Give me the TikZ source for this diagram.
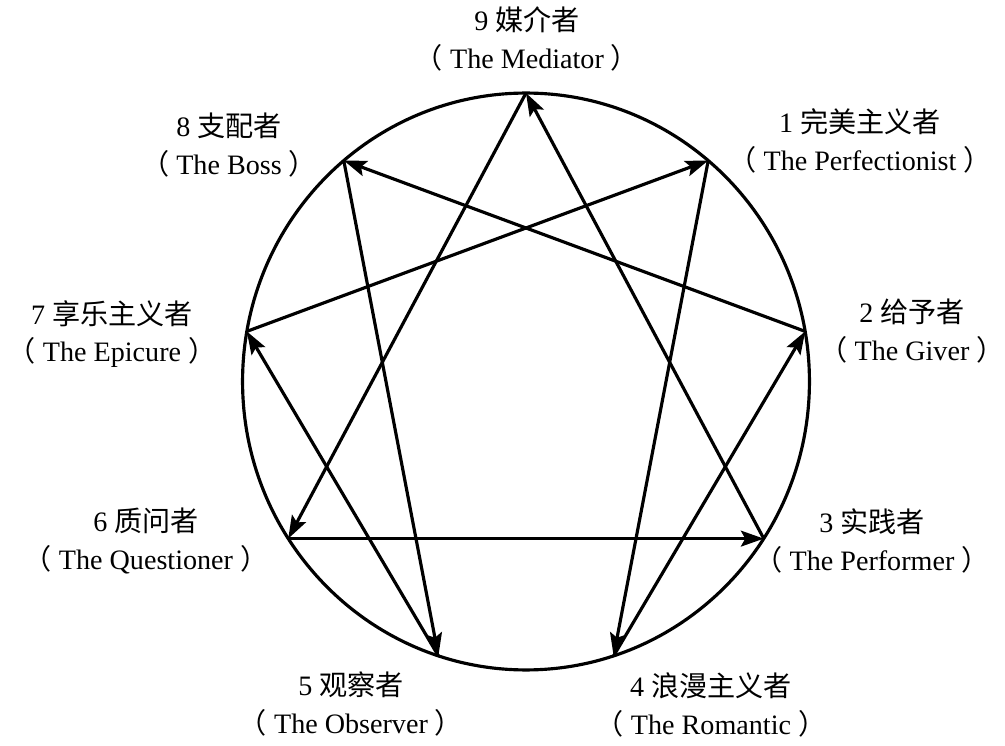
\documentclass[tikz,border=0pt]{standalone}
\usepackage{fontspec}
\setmainfont{Liberation Serif}
\newfontfamily\cjk{Noto Sans CJK SC}
\usetikzlibrary{arrows.meta}

\newcommand{\zh}[1]{{\cjk #1}}
\newcommand{\en}[1]{\zh{（} #1 \zh{）}}

\tikzset{
  ring/.style={line width=1.8pt},
  arr/.style={line width=1.8pt, -{Stealth[length=13pt,width=9pt,inset=2.5pt]}},
  lbl/.style={align=center, font=\fontsize{16}{21.5}\selectfont, inner sep=0pt}
}

\begin{document}
\begin{tikzpicture}[x=0.02cm,y=-0.02cm]
\useasboundingbox (0,0) rectangle (1005,746);

% points on the ring
\foreach \n/\a in {9/90,1/50,2/10,3/-33,4/-72,5/-108,6/-147,7/170,8/130}
    \coordinate (p\n) at ({526+283.5*cos(\a)},{381.5-288.5*sin(\a)});

\draw[ring] (526,381.5) ellipse [x radius=5.67cm, y radius=5.77cm];

% lines of the figure
\foreach \s/\t in {1/4,4/2,2/8,8/5,5/7,7/1,9/6,6/3,3/9}
    \draw[arr] (p\s) -- (p\t);

% labels
\node[lbl] (l9) at (527,39)  {9 \zh{媒介者}\\\en{The Mediator}};
\node[lbl] (l1) at (860,141) {1 \zh{完美主义者}\\\en{The Perfectionist}};
\node[lbl] (l2) at (912,331) {2 \zh{给予者}\\\en{The Giver}};
\node[lbl] (l3) at (872,541) {3 \zh{实践者}\\\en{The Performer}};
\node[lbl] (l4) at (711,705) {4 \zh{浪漫主义者}\\\en{The Romantic}};
\node[lbl] (l5) at (351,704) {5 \zh{观察者}\\\en{The Observer}};
\node[lbl] (l6) at (146,541) {6 \zh{质问者}\\\en{The Questioner}};
\node[lbl] (l7) at (112,334) {7 \zh{享乐主义者}\\\en{The Epicure}};
\node[lbl] (l8) at (229,145) {8 \zh{支配者}\\\en{The Boss}};

\end{tikzpicture}
\end{document}
